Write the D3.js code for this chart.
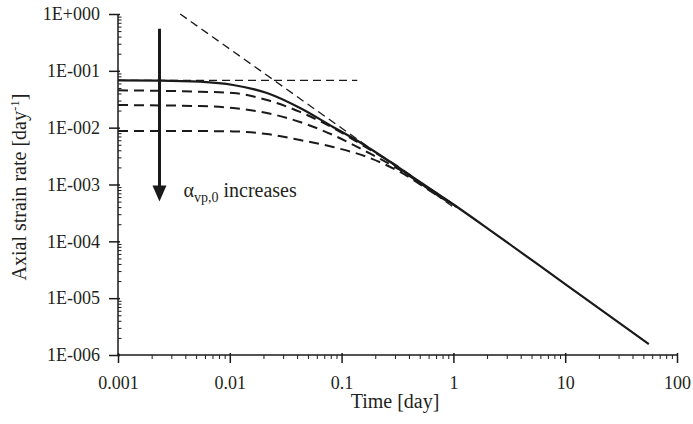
<!DOCTYPE html>
<html><head><meta charset="utf-8">
<script src="https://cdn.jsdelivr.net/npm/d3@7"></script>
<style>
html,body{margin:0;padding:0;background:#fff;}
svg text{font-family:"Liberation Serif","Times New Roman",serif;fill:#231f20;}
</style></head>
<body><svg id="c" width="693" height="424"></svg>
<script>
// ---- data ----
const xMajor = [0.001, 0.01, 0.1, 1, 10, 100];
const xLabels = ["0.001", "0.01", "0.1", "1", "10", "100"];
const yMajor = [1, 1e-1, 1e-2, 1e-3, 1e-4, 1e-5, 1e-6];
const yLabels = ["1E+000", "1E-001", "1E-002", "1E-003", "1E-004", "1E-005", "1E-006"];

const solidT = [0.001, 0.0024, 0.0054, 0.0107, 0.0215, 0.0425, 0.0838, 0.126, 0.234, 0.472, 1.08, 2.12, 10, 56];
const solidR = [0.068, 0.0675, 0.0644, 0.0563, 0.0407, 0.0222, 0.0103, 0.00657, 0.00305, 0.00120, 0.000402, 0.000158, 1.77e-5, 1.56e-6];

const dash1T = [0.001, 0.0054, 0.0107, 0.0215, 0.0425, 0.0838, 0.169, 0.333, 0.472, 1.08];
const dash1R = [0.0454, 0.0429, 0.0407, 0.0307, 0.0189, 0.0099, 0.0044, 0.00195, 0.00120, 0.000402];

const dash2T = [0.001, 0.0054, 0.0107, 0.0215, 0.0425, 0.0838, 0.169, 0.333, 0.6, 1.08];
const dash2R = [0.0250, 0.0240, 0.0222, 0.0181, 0.0126, 0.00743, 0.00373, 0.00180, 0.00084, 0.000402];

const dash3T = [0.001, 0.0054, 0.0107, 0.0215, 0.0425, 0.0838, 0.169, 0.333, 0.759, 1.08];
const dash3R = [0.0087, 0.0087, 0.0086, 0.00773, 0.00606, 0.00457, 0.00305, 0.00166, 0.00060, 0.000400];

const plateauT = [0.001, 0.138];
const plateauR = [0.068, 0.068];

const asymT = [0.0036, 1.0];
const asymR = [1.0, 4.0e-4];

const arrowT = [0.00235, 0.00235];
const arrowR = [0.55, 5.0e-4];

// ---- chart ----
const svg = d3.select("#c");
const L = 118, R = 677, T = 14, B = 355;
const x = d3.scaleLog().domain([0.001, 100]).range([L, R]);
const y = d3.scaleLog().domain([1e-6, 1]).range([B, T]);
const ink = "#1a1a1a";

// minor ticks
const xMinor = [], yMinor = [];
for (let e = -3; e < 2; e++) for (let k = 2; k <= 9; k++) xMinor.push(k * Math.pow(10, e));
for (let e = -6; e < 0; e++) for (let k = 2; k <= 9; k++) yMinor.push(k * Math.pow(10, e));

const gx = svg.append("g").attr("transform", `translate(0,${B})`);
gx.call(d3.axisBottom(x).tickValues(xMinor).tickSize(4).tickFormat(""));
gx.call(g => g.selectAll(".tick line").attr("stroke", ink).attr("stroke-width", 1));
const gxM = svg.append("g").attr("transform", `translate(0,${B})`)
  .call(d3.axisBottom(x).tickValues(xMajor).tickSize(8).tickPadding(13)
    .tickFormat((d, i) => xLabels[i]));
gxM.selectAll(".tick line").attr("stroke", ink).attr("stroke-width", 1.5).attr("y1", -2);
gxM.selectAll(".tick text").style("font-size", "18px").attr("fill", "#231f20");
gx.select(".domain").remove();
gxM.select(".domain").attr("stroke", ink).attr("stroke-width", 1.5).attr("d", `M${L},0H${R}`);

const gy = svg.append("g").attr("transform", `translate(${L},0)`)
  .call(d3.axisRight(y).tickValues(yMinor).tickSize(3.5).tickFormat(""));
gy.selectAll(".tick line").attr("stroke", ink).attr("stroke-width", 1);
gy.select(".domain").remove();
const gyM = svg.append("g").attr("transform", `translate(${L},0)`)
  .call(d3.axisLeft(y).tickValues(yMajor).tickSize(9).tickPadding(9)
    .tickFormat((d, i) => yLabels[i]));
gyM.selectAll(".tick line").attr("stroke", ink).attr("stroke-width", 1.5).attr("x2", -9).attr("x1", 2);
gyM.selectAll(".tick text").style("font-size", "18px").attr("fill", "#231f20");
gyM.select(".domain").attr("stroke", ink).attr("stroke-width", 1.5).attr("d", `M0,${T}V${B}`);

// axis titles
svg.append("text").attr("x", 395).attr("y", 408).attr("text-anchor", "middle")
  .style("font-size", "20px").text("Time [day]");
const yt = svg.append("text").attr("transform", `translate(26,187) rotate(-90)`)
  .attr("text-anchor", "middle").style("font-size", "20px");
yt.append("tspan").text("Axial strain rate [day");
yt.append("tspan").attr("dy", -7).style("font-size", "13px").text("-1");
yt.append("tspan").attr("dy", 7).text("]");

// curves
const line = d3.line().x(d => x(d[0])).y(d => y(d[1])).curve(d3.curveMonotoneX);
const zip = (a, b) => a.map((v, i) => [v, b[i]]);

svg.append("path").attr("d", line(zip(plateauT, plateauR))).attr("fill", "none")
  .attr("stroke", ink).attr("stroke-width", 1.3).attr("stroke-dasharray", "8,5");
svg.append("path").attr("d", line(zip(asymT, asymR))).attr("fill", "none")
  .attr("stroke", ink).attr("stroke-width", 1.3).attr("stroke-dasharray", "8,5");
[[dash1T, dash1R], [dash2T, dash2R], [dash3T, dash3R]].forEach(([t, r]) => {
  svg.append("path").attr("d", line(zip(t, r))).attr("fill", "none")
    .attr("stroke", ink).attr("stroke-width", 2).attr("stroke-dasharray", "10,6");
});
svg.append("path").attr("d", line(zip(solidT, solidR))).attr("fill", "none")
  .attr("stroke", ink).attr("stroke-width", 2.2);

// arrow annotation
const ax = x(arrowT[0]), ay0 = y(arrowR[0]), ay1 = y(arrowR[1]);
svg.append("line").attr("x1", ax).attr("x2", ax).attr("y1", ay0).attr("y2", ay1 - 14)
  .attr("stroke", ink).attr("stroke-width", 3);
svg.append("path").attr("d", `M${ax - 7},${ay1 - 16}L${ax + 7},${ay1 - 16}L${ax},${ay1}Z`).attr("fill", ink);

const ann = svg.append("text").attr("x", ax + 24).attr("y", ay1 - 5).style("font-size", "20px");
ann.append("tspan").text("α");
ann.append("tspan").attr("dy", 5).style("font-size", "14px").text("vp,0");
ann.append("tspan").attr("dy", -5).text(" increases");
</script></body></html>
